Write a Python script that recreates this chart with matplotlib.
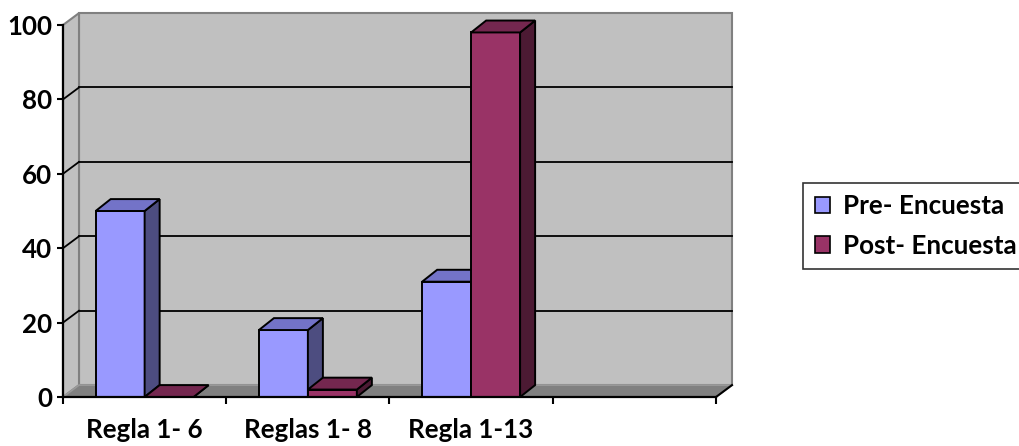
import matplotlib
matplotlib.use("Agg")
import matplotlib.pyplot as plt
from matplotlib.patches import Polygon, Rectangle, Patch

categories = ["Regla 1- 6", "Reglas 1- 8", "Regla 1-13", ""]
pre_encuesta = [50, 18, 31]
post_encuesta = [0, 2, 98]
series_names = ["Pre- Encuesta", "Post- Encuesta"]

plt.rcParams["font.family"] = ["Lato", "DejaVu Sans"]
plt.rcParams["font.weight"] = "bold"

fig = plt.figure(figsize=(10.2, 4.46), dpi=100)
ax = fig.add_axes([63 / 1020, 49 / 446, 653 / 1020, 372 / 446])
n_cat = len(categories)
ax.set_xlim(0, n_cat)
ax.set_ylim(0, 100)

# profundidad del efecto 3D (en unidades de datos)
DX, DY = 0.098, 3.2
BDX, BDY = 0.092, 3.2

wall = "#C0C0C0"
edge = "#808080"
# pared del fondo, pared lateral y suelo
ax.add_patch(Rectangle((DX, DY), n_cat, 100, fc=wall, ec=edge, lw=1.5, clip_on=False, zorder=0))
ax.add_patch(Polygon([(0, 0), (DX, DY), (DX, 100 + DY), (0, 100)], fc=wall, ec=edge, lw=1.5,
                     clip_on=False, zorder=0))
ax.add_patch(Polygon([(0, 0), (n_cat, 0), (n_cat + DX, DY), (DX, DY)], fc="#808080", ec="#9A9A9A",
                     lw=1.2, clip_on=False, zorder=0.5))

for v in range(20, 100, 20):
    ax.plot([DX, n_cat + DX], [v + DY, v + DY], color="black", lw=1.3, clip_on=False, zorder=1)
    ax.plot([0, DX], [v, v + DY], color="black", lw=1.3, clip_on=False, zorder=1)
ax.plot([n_cat, n_cat + DX], [0, DY], color="black", lw=1.5, clip_on=False, zorder=1)


def bar3d(x0, w, v, front, top, side, z):
    ax.bar(x0, v, width=w, align="edge", color=front, edgecolor="black", lw=1.4,
           clip_on=False, zorder=z)
    ax.add_patch(Polygon([(x0 + w, 0), (x0 + w + BDX, BDY), (x0 + w + BDX, v + BDY), (x0 + w, v)],
                         fc=side, ec="black", lw=1.4, clip_on=False, zorder=z))
    ax.add_patch(Polygon([(x0, v), (x0 + BDX, v + BDY), (x0 + w + BDX, v + BDY), (x0 + w, v)],
                         fc=top, ec="black", lw=1.4, clip_on=False, zorder=z))


w = 0.3
for i, v in enumerate(pre_encuesta):
    bar3d(i + 0.2, w, v, "#9999FF", "#7373C8", "#4D4D80", 3 + i * 0.1)
for i, v in enumerate(post_encuesta):
    bar3d(i + 0.2 + w, w, v, "#993366", "#74274F", "#4C1A33", 3.05 + i * 0.1)

for s in ["top", "right"]:
    ax.spines[s].set_visible(False)
for s in ["left", "bottom"]:
    ax.spines[s].set_color("black")
    ax.spines[s].set_linewidth(1.6)
    ax.spines[s].set_zorder(6)

fs = 18.7
ax.set_yticks(range(0, 101, 20))
ax.tick_params(axis="y", length=4, width=1.5, pad=4, labelsize=fs)
ax.set_xticks([i + 0.5 for i in range(n_cat)])
ax.set_xticklabels(categories)
ax.set_xticks(range(n_cat + 1), minor=True)
ax.tick_params(axis="x", which="major", length=0, pad=15, labelsize=fs)
ax.tick_params(axis="x", which="minor", length=5, width=1.5)

handles = [Patch(fc="#9999FF", ec="black", lw=1.2), Patch(fc="#993366", ec="black", lw=1.2)]
leg = fig.legend(handles, series_names, loc="center left", bbox_to_anchor=(803 / 1020, 1 - 226 / 446),
                 fontsize=fs, frameon=True, fancybox=False, handlelength=0.6, handleheight=0.6,
                 handletextpad=0.5, labelspacing=0.6, borderpad=0.45, borderaxespad=0)
leg.get_frame().set_edgecolor("black")
leg.get_frame().set_linewidth(1.2)

fig.savefig("out.png", dpi=100)
